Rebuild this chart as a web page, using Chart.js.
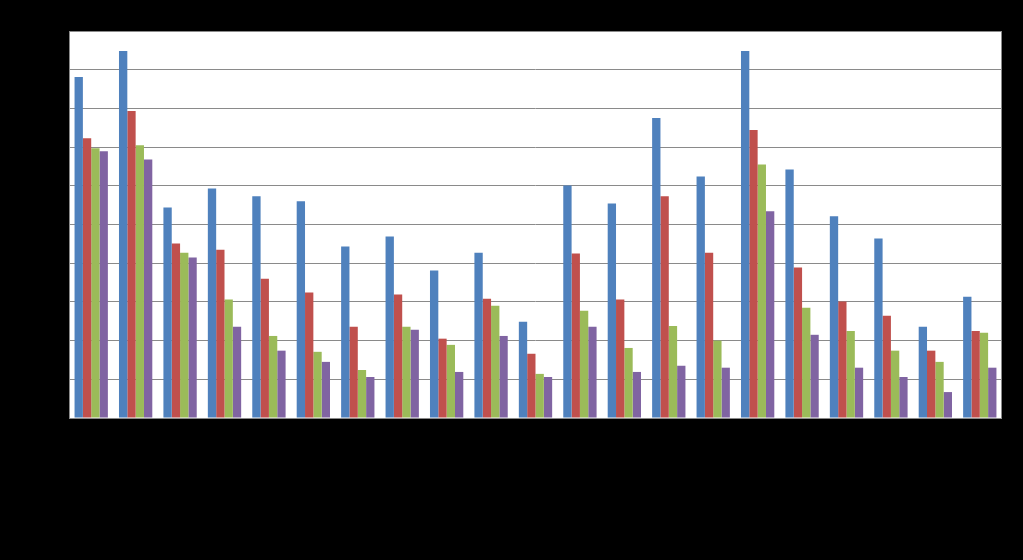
<!DOCTYPE html>
<html>
<head>
<meta charset="utf-8">
<script src="https://cdn.jsdelivr.net/npm/chart.js@4/dist/chart.umd.min.js"></script>
<style>
    html, body { margin: 0; padding: 0; background: #000; }
    #wrap { width: 1023px; height: 560px; position: relative; }
</style>
</head>
<body>
<div id="wrap"><canvas id="barChart"></canvas></div>
<script>
// values (labels are black on black in the original)
const categories = ['1', '2', '3', '4', '5', '6', '7', '8', '9', '10', '11',
    '12', '13', '14', '15', '16', '17', '18', '19', '20', '21'];
const seriesA = [8.81, 9.48, 5.44, 5.93, 5.73, 5.60, 4.43, 4.69, 3.81, 4.27, 2.49,
    6.01, 5.54, 7.75, 6.24, 9.48, 6.42, 5.21, 4.64, 2.36, 3.13];
const seriesB = [7.23, 7.93, 4.51, 4.35, 3.60, 3.24, 2.36, 3.19, 2.05, 3.08, 1.66,
    4.25, 3.06, 5.73, 4.27, 7.44, 3.89, 3.01, 2.64, 1.74, 2.25];
const seriesC = [6.97, 7.05, 4.27, 3.06, 2.12, 1.71, 1.24, 2.36, 1.89, 2.90, 1.14,
    2.77, 1.81, 2.38, 2.00, 6.55, 2.85, 2.25, 1.74, 1.45, 2.20];
const seriesD = [6.89, 6.68, 4.15, 2.36, 1.74, 1.45, 1.06, 2.28, 1.19, 2.12, 1.06,
    2.36, 1.19, 1.35, 1.30, 5.34, 2.15, 1.30, 1.06, 0.67, 1.30];

// white plot area on the black page
const plotBg = {
    id: 'plotBg',
    beforeDraw(chart) {
        const { ctx, chartArea: a } = chart;
        ctx.save();
        ctx.fillStyle = '#ffffff';
        ctx.fillRect(a.left, a.top, a.right - a.left, a.bottom - a.top);
        ctx.restore();
    },
    afterDraw(chart) {
        const { ctx, chartArea: a } = chart;
        ctx.save();
        ctx.strokeStyle = '#8a8a8a';
        ctx.lineWidth = 1;
        ctx.strokeRect(a.left + 0.5, a.top + 0.5, a.right - a.left - 1, a.bottom - a.top);
        ctx.restore();
    }
};

const mk = (label, data, color) => ({
    label, data, backgroundColor: color, borderWidth: 0,
    barPercentage: 1, categoryPercentage: 0.75
});

new Chart(document.getElementById('barChart'), {
    type: 'bar',
    data: {
        labels: categories,
        datasets: [
            mk('Series 1', seriesA, '#4f81bd'),
            mk('Series 2', seriesB, '#c0504d'),
            mk('Series 3', seriesC, '#9bbb59'),
            mk('Series 4', seriesD, '#8064a2')
        ]
    },
    options: {
        responsive: true,
        maintainAspectRatio: false,
        animation: false,
        layout: { padding: { left: 69, top: 31, right: 21, bottom: 134 } },
        plugins: { legend: { display: false }, tooltip: { enabled: false } },
        scales: {
            x: {
                grid: { display: false },
                border: { display: false },
                ticks: { display: false }
            },
            y: {
                min: 0, max: 10,
                grid: { color: '#8a8a8a', drawTicks: false },
                border: { display: false },
                ticks: { display: false, stepSize: 1 }
            }
        }
    },
    plugins: [plotBg]
});
</script>
</body>
</html>
